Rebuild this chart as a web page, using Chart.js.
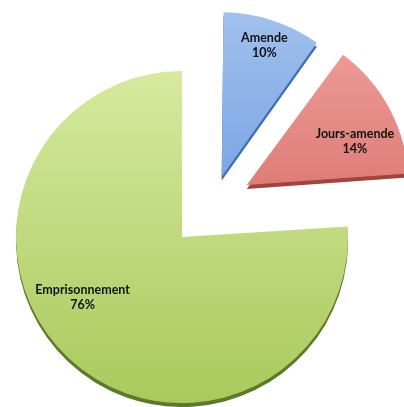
<!DOCTYPE html>
<html>
<head>
<meta charset="utf-8">
<script src="https://cdn.jsdelivr.net/npm/chart.js@4.4.1/dist/chart.umd.min.js"></script>
<style>
  body { margin: 0; background: #fff; }
  #wrap { position: relative; width: 404px; height: 407px; }
  #wrap canvas { position: absolute; left: 0; top: 0; }
</style>
</head>
<body>
<div id="wrap">
  <canvas id="sideBig" width="404" height="407"></canvas>
  <canvas id="topBig" width="404" height="407"></canvas>
  <canvas id="sideSmall" width="404" height="407"></canvas>
  <canvas id="topSmall" width="404" height="407"></canvas>
</div>
<script>
// data
const categories = ['Amende', 'Jours-amende', 'Emprisonnement'];
const shares = [10, 14, 76];

const CLEAR = 'rgba(0,0,0,0)';

// vertical gradient for the "top face" of a slice, [light, dark]
function paint(chart, col) {
  if (!Array.isArray(col)) return col;
  const g = chart.ctx.createLinearGradient(0, 0, 0, 407);
  g.addColorStop(0, col[0]);
  g.addColorStop(1, col[1]);
  return g;
}

// labels: angle fraction within slice, radius fraction
const labelPlugin = {
  id: 'sliceLabels',
  afterDatasetsDraw(chart, args, opts) {
    if (!opts.show) return;
    const ctx = chart.ctx;
    const meta = chart.getDatasetMeta(0);
    ctx.save();
    ctx.font = 'bold 12.5px Lato';
    ctx.fillStyle = '#111';
    ctx.textAlign = 'center';
    ctx.textBaseline = 'middle';
    meta.data.forEach((a, i) => {
      const place = opts.place[i];
      if (!place) return;
      const half = (a.startAngle + a.endAngle) / 2;
      const off = (a.options.offset || 0) / 4;
      const fix = 1 - Math.sin(Math.min(Math.PI, a.circumference));
      const cx = a.x + Math.cos(half) * off;
      const cy = a.y + Math.sin(half) * off;
      const r = a.outerRadius + off * fix;
      const ang = a.startAngle + place[0] * (a.endAngle - a.startAngle);
      const x = cx + Math.cos(ang) * r * place[1];
      const y = cy + Math.sin(ang) * r * place[1];
      ctx.fillText(categories[i], x, y - 7.5);
      ctx.fillText(shares[i] + '%', x, y + 7.5);
    });
    ctx.restore();
  }
};

function makePie(id, colors, offsets, radius, padding, place) {
  return new Chart(document.getElementById(id), {
    type: 'pie',
    data: {
      labels: categories,
      datasets: [{
        data: shares,
        backgroundColor: (c) => paint(c.chart, colors[c.dataIndex]),
        offset: offsets,
        borderWidth: 0,
        radius: radius,
        clip: false
      }]
    },
    options: {
      responsive: false,
      animation: false,
      events: [],
      layout: { padding: padding },
      plugins: {
        legend: { display: false },
        tooltip: { enabled: false },
        sliceLabels: { show: !!place, place: place || [] }
      }
    },
    plugins: [labelPlugin]
  });
}

// big slice (Emprisonnement), side then top face
makePie('sideBig', [CLEAR, CLEAR, '#5d7a2a'], [0, 0, 0], 166,
  { left: 0, right: 40, top: 75, bottom: 0 });
makePie('topBig', [CLEAR, CLEAR, ['#e0f0ad', '#a9c95c']], [0, 0, 0], 166,
  { left: 0, right: 40, top: 67, bottom: 0 },
  [null, null, [0.557, 0.70]]);

// exploded small slices
makePie('sideSmall', ['#3d70b5', '#a3433e', CLEAR], [112, 154, 0], 153,
  { left: 22, right: 0, top: 8, bottom: 0 });
makePie('topSmall', [['#a9c6f0', '#5088d6'], ['#f4aaa5', '#c9504b'], CLEAR], [112, 154, 0], 153,
  { left: 22, right: 0, top: 0, bottom: 0 },
  [[0.5, 0.84], [0.64, 0.72], null]);
</script>
</body>
</html>
